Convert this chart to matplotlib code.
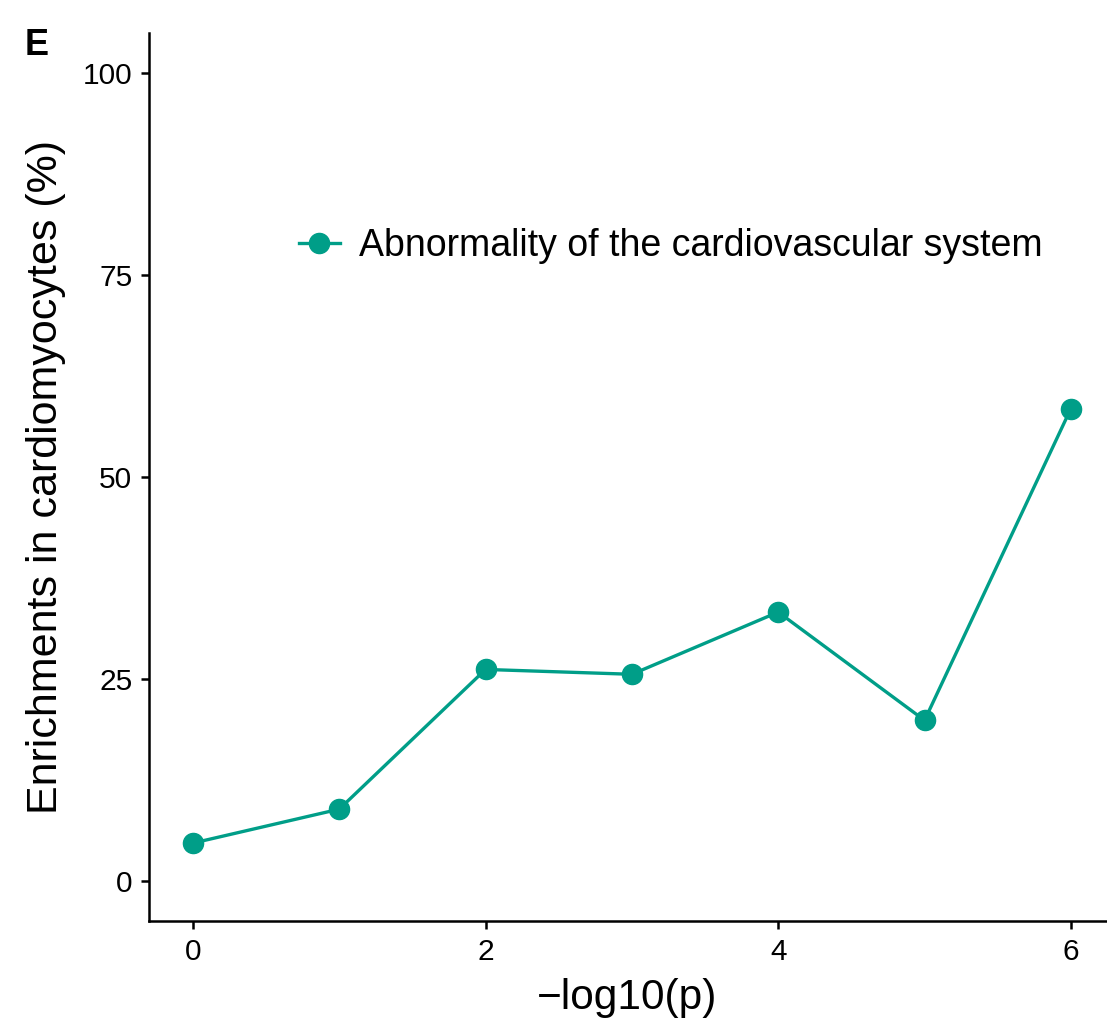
import matplotlib
matplotlib.use("Agg")
import matplotlib.pyplot as plt

plt.rcParams["font.family"] = ["Liberation Sans", "DejaVu Sans"]

# data
neglog_p = [0, 1, 2, 3, 4, 5, 6]
enrichment = [4.7, 8.9, 26.2, 25.6, 33.3, 19.9, 58.5]
series_label = "Abnormality of the cardiovascular system"
TEAL = "#009E88"

fig = plt.figure(figsize=(11.07, 10.22), dpi=100)
ax = fig.add_axes([0.1346, 0.0988, 0.8645, 0.8689])

ax.plot(neglog_p, enrichment, "-o", color=TEAL, lw=2.4, ms=14.5,
        label=series_label)

ax.set_xlim(-0.30, 6.24)
ax.set_ylim(-4.95, 105)
ax.set_xticks([0, 2, 4, 6])
ax.set_yticks([0, 25, 50, 75, 100])
for s in ("top", "right"):
    ax.spines[s].set_visible(False)
for s in ("left", "bottom"):
    ax.spines[s].set_linewidth(1.8)
ax.tick_params(length=6, width=1.8, labelsize=21.5, pad=6, colors="black")

ax.set_xlabel("\u2212log10(p)", fontsize=30.5, labelpad=9)
ax.set_ylabel("Enrichments in cardiomyocytes (%)", fontsize=31, labelpad=12)

ax.legend(loc="center left", bbox_to_anchor=(0.121, 0.76), frameon=False,
          fontsize=27, handlelength=1.1, handletextpad=0.5)

fig.text(0.022, 0.955, "E", fontsize=26, fontweight="bold", va="center")

fig.savefig("out.png", dpi=100)
